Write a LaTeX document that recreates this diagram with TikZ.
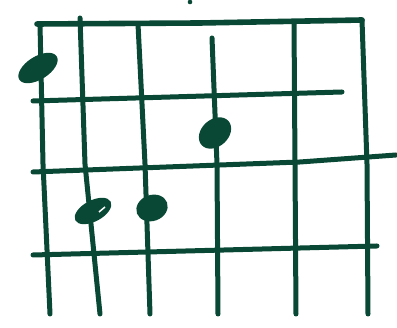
\documentclass[tikz,border=0pt]{standalone}
\definecolor{ink}{RGB}{8,72,52}
\begin{document}
\begin{tikzpicture}[x=1pt,y=1pt,
  stroke/.style={draw=ink,line width=5pt,line cap=round,line join=round},
  blob/.style={fill=ink}]
\useasboundingbox (0,0) rectangle (397,328);
% frets
\draw[stroke,line width=5.6pt] (37,304) -- (200,305) -- (362,308);
\draw[stroke] (33,227) -- (342,236);
\draw[stroke] (33,156) -- (300,166) -- (396,173);
\draw[stroke] (33,73) -- (377,82);
% strings
\draw[stroke] (40,304) -- (43,164) -- (50,14);
\draw[stroke] (80,310) -- (85,164) -- (100,14);
\draw[stroke] (138,304) -- (145,164) -- (150,14);
\draw[stroke] (212,290) -- (217,164) -- (218,14);
\draw[stroke] (294,306) -- (295,164) -- (296,14);
\draw[stroke] (362,308) -- (367,164) -- (368,14);
% dots
\fill[blob] (38,260) ellipse[x radius=22,y radius=11.5,rotate=32];
\fill[blob] (215,195) ellipse[x radius=18,y radius=13.5,rotate=42];
\fill[blob] (93,117) ellipse[x radius=20,y radius=10.5,rotate=28];
\draw[white,line width=1.5pt] (99,116) -- (105,121);
\fill[blob] (152,120) ellipse[x radius=16,y radius=13,rotate=20];
\fill[blob] (190,326) circle (2.3);
\end{tikzpicture}
\end{document}
